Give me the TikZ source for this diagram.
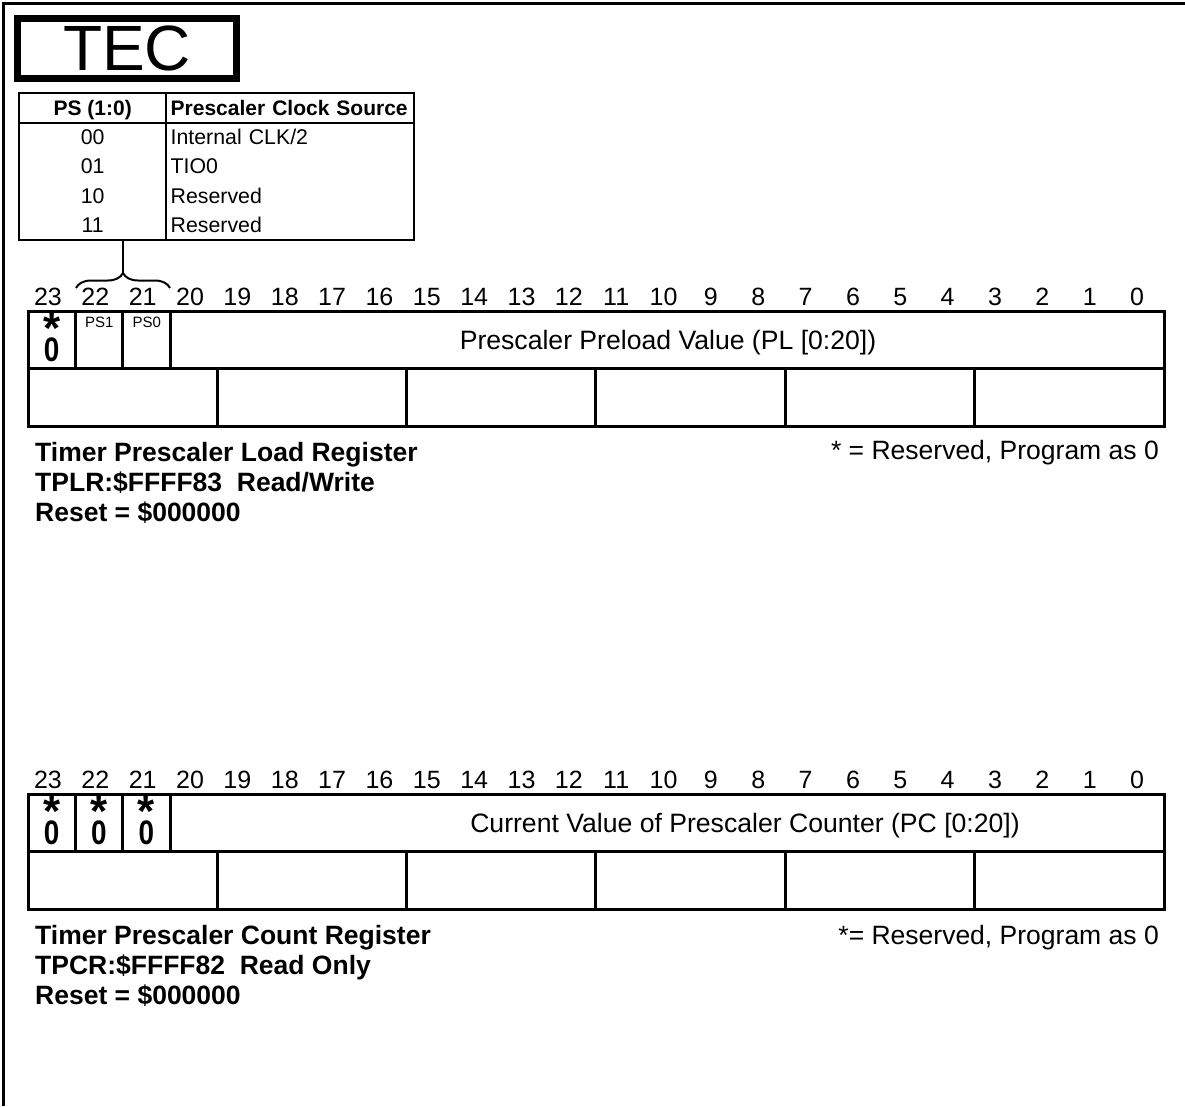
\documentclass[tikz,border=0pt]{standalone}
\usepackage{fontspec}
\setmainfont{Liberation Sans}
\newfontfamily\zerofont[FakeStretch=0.82]{Liberation Sans}
\usetikzlibrary{matrix,decorations.pathreplacing,positioning,calc}

\begin{document}
\begin{tikzpicture}[x=1pt,y=-1pt,
  regline/.style={line width=3pt},
  tabline/.style={line width=2pt},
  bitnum/.style={anchor=base,inner sep=0pt,font=\fontsize{25}{25}\selectfont},
  fieldtext/.style={anchor=base,inner sep=0pt,font=\fontsize{26.6}{26.6}\selectfont},
  bitname/.style={anchor=base,inner sep=0pt,font=\fontsize{15}{15}\selectfont},
  reglabel/.style={anchor=base west,inner sep=0pt,font=\fontsize{26.5}{26.5}\selectfont\bfseries},
  note/.style={anchor=base east,inner sep=0pt,font=\fontsize{26.5}{26.5}\selectfont},
  rsvbit/.style={anchor=north,inner sep=0pt,align=center,font=\bfseries\fontsize{44}{10}\selectfont},
  ]
  \useasboundingbox (0,0) rectangle (1185,1106);
  \draw[regline] (3,1106) -- (3,3) -- (1185,3);
  \node[draw,line width=7pt,minimum width=219pt,minimum height=60pt,inner sep=0pt,
    font=\fontsize{64}{64}\selectfont] (tec) at (127,48.5) {TEC};

  % clock source table
  \matrix (ps) [matrix of nodes, anchor=north west, inner sep=0pt, row sep=0pt, column sep=0pt,
    nodes={inner sep=0pt, minimum height=29.25pt, text height=15pt, text depth=0pt, anchor=center,
      font=\fontsize{21.3}{21.3}\selectfont},
    column 1/.style={nodes={minimum width=147pt}},
    column 2/.style={nodes={text width=239pt, inner xsep=4.5pt, align=left}},
    row 1/.style={nodes={font=\fontsize{21}{21}\selectfont\bfseries}}] at (19,93) {
    PS (1:0) & Prescaler Clock Source \\
    00 & Internal CLK/2 \\
    01 & TIO0 \\
    10 & Reserved \\
    11 & Reserved \\
  };
  \draw[tabline] (ps.north west) rectangle (ps.south east);
  \draw[tabline] (ps-1-1.south west) -- (ps-1-2.south east);
  \draw[tabline] (ps-1-2.north west) -- (ps-5-2.south west);
  \coordinate (bk) at (123,273);
  \coordinate (br0) at (76,288);
  \coordinate (br1) at (170,288);
  \draw[tabline] (ps.south -| bk) -- (bk);
  \draw[tabline,decorate,decoration={brace,amplitude=15pt}] (br0) -- (br1);

  % the two registers
  \foreach \ry/\nm in {311/tplr,794/tpcr}{
    \draw[regline] (28,\ry) rectangle (1164,\ry+115);
    \draw[regline] (28,\ry+57.5) -- (1164,\ry+57.5);
    \foreach \k in {1,2,3}
      \draw[regline] ({28+47.333*\k},\ry) -- ++(0,57.5);
    \foreach \k in {1,...,5}
      \draw[regline] ({28+189.33*\k},\ry+57.5) -- ++(0,57.5);
    \foreach \b in {0,...,23}
      \node[bitnum] (\nm-\b) at ({48+47.35*(23-\b)},\ry-6) {\b};
  }

  % TPLR
  \node[rsvbit] (tplr-r23) at (51.7,313) {*\\[-7pt]\zerofont\bfseries\fontsize{34}{10}\selectfont 0};
  \node[bitname] (ps1) at (99.3,327) {PS1};
  \node[bitname] (ps0) at (146.7,327) {PS0};
  \node[fieldtext] (plval) at (668,349) {Prescaler Preload Value (PL [0:20])};
  \node[reglabel] (tplrname) at (35,461) {Timer Prescaler Load Register};
  \node[reglabel] (tplraddr) at (35,491) {TPLR:\$FFFF83\ \ Read/Write};
  \node[reglabel] (tplrrst) at (35,521) {Reset = \$000000};
  \node[note] (tplrnote) at (1159,459) {* = Reserved, Program as 0};

  % TPCR
  \foreach \x/\b in {51.7/23,99/22,146.3/21}
    \node[rsvbit] (tpcr-r\b) at (\x,796) {*\\[-7pt]\zerofont\bfseries\fontsize{34}{10}\selectfont 0};
  \node[fieldtext] (pcval) at (745,832) {Current Value of Prescaler Counter (PC [0:20])};
  \node[reglabel] (tpcrname) at (35,944) {Timer Prescaler Count Register};
  \node[reglabel] (tpcraddr) at (35,974) {TPCR:\$FFFF82\ \ Read Only};
  \node[reglabel] (tpcrrst) at (35,1004) {Reset = \$000000};
  \node[note] (tpcrnote) at (1159,944) {*= Reserved, Program as 0};
\end{tikzpicture}
\end{document}
